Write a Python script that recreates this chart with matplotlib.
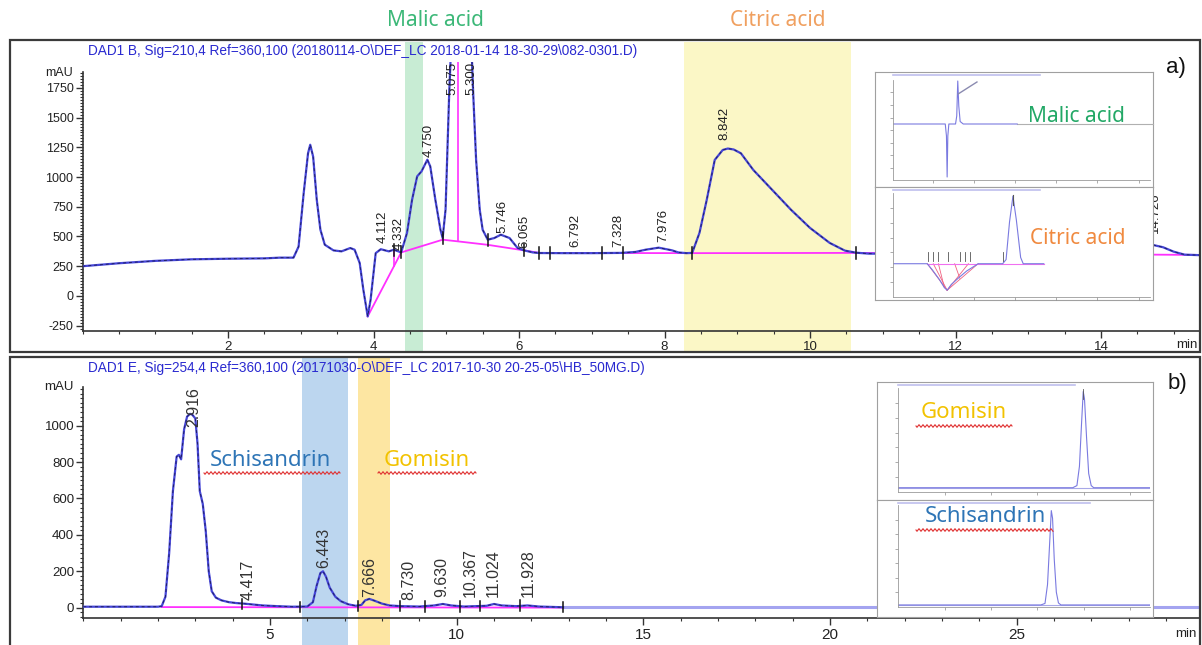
import numpy as np
import matplotlib
matplotlib.use('Agg')
import matplotlib.pyplot as plt
from matplotlib.patches import Rectangle
from matplotlib.lines import Line2D
from matplotlib.transforms import blended_transform_factory
from matplotlib.ticker import MultipleLocator, FixedLocator, NullFormatter

plt.rcParams['font.family'] = ['Liberation Sans', 'DejaVu Sans']
plt.rcParams['axes.unicode_minus'] = False

W, H = 1202, 645

# ---------------- panel a) DAD1 B, 210 nm ----------------
a_time = [0.0, 0.5, 1.0, 1.5, 2.0, 2.5, 2.71, 2.90, 2.97, 3.04, 3.10, 3.13, 3.17, 3.22,
          3.27, 3.33, 3.45, 3.56, 3.68, 3.74, 3.81, 3.86, 3.92, 3.96, 4.03, 4.10, 4.21,
          4.28, 4.38, 4.46, 4.53, 4.60, 4.66, 4.74, 4.78, 4.85, 4.92, 4.95, 4.99, 5.04,
          5.08, 5.17, 5.30, 5.34, 5.37, 5.41, 5.46, 5.50, 5.57, 5.66, 5.75, 5.87, 5.98,
          6.07, 6.19, 6.28, 6.6, 7.0, 7.4, 7.6, 7.74, 7.92, 8.10, 8.19, 8.30, 8.38,
          8.48, 8.58, 8.69, 8.80, 8.87, 8.95, 9.05, 9.22, 9.48, 9.74, 10.00, 10.27,
          10.48, 10.63, 10.8, 11.5, 12.5, 13.5, 14.2, 14.45, 14.6, 14.72, 14.85, 15.0,
          15.15, 15.36]
a_mau = [250, 275, 295, 308, 313, 316, 322, 322, 415, 864, 1200, 1272, 1172, 809,
         557, 431, 383, 375, 403, 389, 277, 53, -172, -32, 360, 393, 375,
         389, 366, 529, 809, 1006, 1048, 1146, 1090, 809, 557, 487, 725, 1700,
         2300, 2150, 2400, 2200, 1705, 1146, 725, 557, 473, 487, 515, 487, 403,
         383, 366, 361, 360, 360, 362, 370, 389, 406, 384, 366, 360, 362,
         530, 808, 1144, 1228, 1240, 1232, 1200, 1060, 892, 724, 572, 446,
         381, 364, 356, 352, 350, 348, 352, 380, 420, 428, 410, 372,
         347, 343]

a_base_t = [3.92, 4.38, 4.95, 5.16, 5.57, 6.07, 6.28, 8.38, 10.63, 15.36]
a_base_v = [-172, 366, 473, 459, 430, 383, 362, 360, 362, 345]

a_drop_t = [4.28, 5.16]
a_drop_lo = [249, 459]
a_drop_hi = [389, 2100]

a_mark_t = [4.28, 4.38, 4.95, 5.57, 6.07, 6.28, 6.42, 7.14, 7.43, 8.38, 10.63]
a_mark_v = [389, 366, 487, 473, 383, 362, 360, 360, 360, 362, 364]

a_lab_txt = ['4.112', '4.332', '4.750', '5.746', '6.065', '6.792', '7.328', '7.976', '8.842', '14.726']
a_lab_t = [4.13, 4.34, 4.76, 5.77, 6.08, 6.78, 7.36, 7.98, 8.82, 14.74]
a_lab_v = [446, 387, 1170, 530, 404, 412, 412, 454, 1312, 530]
a_top_txt = ['5.075', '5.300']
a_top_t = [5.09, 5.34]

# inset a (standards)
ia1_t = [0, 3.05, 3.12, 3.16, 3.20, 3.26, 3.65, 3.72, 3.78, 3.84, 3.92, 4.1, 7.25]
ia1_v = [0, 0, -120, -530, -120, 0, 0, 80, 430, 180, 25, 0, 0]
ia2_t = [0, 2.0, 2.3, 2.7, 3.0, 3.16, 3.4, 3.8, 4.3, 4.97, 6.4, 6.6, 6.8, 7.0, 7.2, 7.45, 7.6, 8.8]
ia2_v = [0, 0, -60, -150, -230, -255, -200, -140, -70, 0, 0, 40, 400, 650, 420, 60, 0, 0]
ia2_base_t = [[2.0, 3.16], [3.16, 4.97], [2.35, 3.16], [3.16, 4.4], [2.65, 3.0], [3.6, 3.9]]
ia2_base_v = [[0, -255], [-255, 0], [0, -255], [-255, 0], [0, -230], [0, -140]]
ia2_mark_t = [2.05, 2.35, 2.6, 3.2, 3.9, 4.2, 4.5, 6.4]

# ---------------- panel b) DAD1 E, 254 nm ----------------
b_time = [0.0, 1.0, 2.0, 2.1, 2.2, 2.3, 2.4, 2.5, 2.56, 2.62, 2.7, 2.78, 2.86, 2.92,
          3.0, 3.06, 3.12, 3.2, 3.28, 3.36, 3.44, 3.55, 3.7, 3.9, 4.1, 4.3, 4.5,
          4.8, 5.2, 5.6, 6.0, 6.15, 6.25, 6.35, 6.42, 6.5, 6.6, 6.75, 6.9, 7.1,
          7.3, 7.45, 7.55, 7.66, 7.8, 8.0, 8.2, 8.5, 9.0, 9.4, 9.63, 9.85, 10.2,
          10.8, 11.0, 11.2, 11.6, 11.9, 12.2, 12.85]
b_mau = [5, 5, 5, 8, 60, 300, 640, 830, 840, 815, 980, 1050, 1065, 1060,
         1040, 900, 640, 570, 420, 200, 90, 55, 40, 30, 25, 22, 18,
         12, 8, 5, 6, 30, 120, 190, 200, 170, 110, 60, 35, 18,
         10, 15, 40, 48, 38, 22, 12, 8, 6, 12, 20, 12, 6,
         10, 20, 12, 8, 12, 6, 2]
b_tail_t = [12.85, 29.91]
b_tail_v = [2, 2]
b_base_t = [2.1, 12.85]
b_base_v = [3, 0]
b_mark_t = [4.24, 5.8, 7.37, 8.48, 9.15, 10.09, 10.63, 11.7, 12.85]
b_mark_v = [22, 5, 10, 8, 6, 6, 8, 12, 2]

b_lab_txt = ['2.916', '4.417', '6.443', '7.666', '8.730', '9.630', '10.367', '11.024', '11.928']
b_lab_t = [2.97, 4.41, 6.45, 7.68, 8.72, 9.60, 10.36, 10.98, 11.91]
b_lab_v = [990, 42, 218, 58, 42, 58, 58, 58, 58]

# inset b (standards)
ib1_t = [0, 20.8, 21.3, 21.6, 21.85, 22.05, 22.2, 22.45, 22.7, 23.0, 23.3, 30]
ib1_v = [0, 0, 30, 300, 900, 1350, 1250, 700, 200, 30, 0, 0]
ib2_t = [0, 17.0, 17.5, 17.8, 18.05, 18.25, 18.4, 18.6, 18.85, 19.1, 19.4, 30]
ib2_v = [0, 0, 30, 400, 1200, 1850, 1700, 900, 250, 40, 0, 0]

fig = plt.figure(figsize=(W / 100, H / 100), dpi=100)
fig.patch.set_facecolor('white')


def rect(x0, y0, x1, y1):
    return [x0 / W, 1 - y1 / H, (x1 - x0) / W, (y1 - y0) / H]


def ftext(x, y, s, **kw):
    return fig.text(x / W, 1 - y / H, s, **kw)


def wavy(x0, x1, y, z=8):
    xs = np.arange(x0, x1 + 0.1, 1.0)
    ys = y + 1.3 * np.sin(xs * np.pi / 2)
    fig.add_artist(Line2D(xs / W, 1 - ys / H, transform=fig.transFigure,
                          color='#e03030', lw=0.8, zorder=z))


def band(ax, x0, x1, y0, y1, color):
    tr = blended_transform_factory(ax.transData, fig.transFigure)
    ax.add_patch(Rectangle((x0, 1 - y1 / H), x1 - x0, (y1 - y0) / H, transform=tr,
                           color=color, lw=0, clip_on=False, zorder=0))


def style(ax, xlim, ylim, ytop, xmaj, xmin, ymaj, ymin, fs_x, fs_y):
    ax.set_xlim(xlim)
    ax.set_ylim(ylim)
    ax.set_facecolor('none')
    for s in ['top', 'right']:
        ax.spines[s].set_visible(False)
    for s in ['left', 'bottom']:
        ax.spines[s].set_color('#333333')
        ax.spines[s].set_linewidth(1.2)
    ax.spines['left'].set_bounds(ylim[0], ytop)
    ax.set_xticks(xmaj)
    ax.xaxis.set_minor_locator(MultipleLocator(xmin))
    ax.set_yticks(ymaj)
    ax.yaxis.set_minor_locator(FixedLocator(np.arange(ymaj[0] - ymin * 2, ytop, ymin)))
    ax.tick_params(which='major', direction='out', length=5, width=1, color='#333333')
    ax.tick_params(which='minor', direction='out', length=2.5, width=0.8, color='#333333')
    ax.tick_params(axis='x', labelsize=fs_x, pad=2, labelcolor='#222222')
    ax.tick_params(axis='y', labelsize=fs_y, pad=1.5, labelcolor='#222222')
    tr = blended_transform_factory(ax.transAxes, ax.transData)
    ax.text(-0.009, ytop - 5, 'mAU', transform=tr, ha='right', va='center',
            fontsize=fs_y, color='#222222')


# ---------- panel a ----------
ax_a = fig.add_axes(rect(82.5, 62, 1200, 331))
style(ax_a, (0, 15.36), (-295, 1968), 1880, [2, 4, 6, 8, 10, 12, 14], 0.5,
      list(range(-250, 1751, 250)), 25, 9.5, 9)
band(ax_a, 4.43, 4.68, 42, 352, '#c8ecd4')
band(ax_a, 8.27, 10.56, 42, 352, '#fbf7c6')

ax_a.plot(a_base_t, a_base_v, color='#ff30ff', lw=1.3, zorder=2)
for t, lo, hi in zip(a_drop_t, a_drop_lo, a_drop_hi):
    ax_a.plot([t, t], [lo, hi], color='#ff30ff', lw=1.2, zorder=2)
ax_a.plot(a_time, a_mau, color='#4646d8', lw=1.6, zorder=3)
ax_a.plot(a_time, a_mau, color='#16164a', lw=0.7, dashes=(3, 3), alpha=0.8, zorder=3.1)
for t, v in zip(a_mark_t, a_mark_v):
    ax_a.plot([t, t], [v - 50, v + 50], color='#111111', lw=1.1, zorder=4)
for s, t, v in zip(a_lab_txt, a_lab_t, a_lab_v):
    ax_a.text(t, v, s, rotation=90, ha='center', va='bottom', fontsize=9.5,
              color='#222222', zorder=4)
for s, t in zip(a_top_txt, a_top_t):
    ax_a.text(t, 1965, s, rotation=90, ha='center', va='top', fontsize=9.5,
              color='#222222', zorder=4)

ftext(88, 51, 'DAD1 B, Sig=210,4 Ref=360,100 (20180114-O\\DEF_LC 2018-01-14 18-30-29\\082-0301.D)',
      fontsize=9.8, color='#2a2ad0', ha='left', va='center')
ftext(1198, 345, 'min', fontsize=9.5, color='#222222', ha='right', va='center')
ftext(435, 20, 'Malic acid', fontsize=15, color='#3cb878', ha='center', va='center',
      family=['Noto Sans', 'DejaVu Sans'])
ftext(778, 20, 'Citric acid', fontsize=15, color='#f0a060', ha='center', va='center',
      family=['Noto Sans', 'DejaVu Sans'])
ftext(1176, 68, 'a)', fontsize=16, color='#111111', ha='center', va='center')

# ---------- panel b ----------
ax_b = fig.add_axes(rect(83.3, 380, 1200, 618))
style(ax_b, (0, 29.91), (-57, 1251), 1215, [5, 10, 15, 20, 25], 1,
      list(range(0, 1001, 200)), 25, 11, 9.5)
band(ax_b, 5.85, 7.10, 358, 645, '#bcd6ef')
band(ax_b, 7.37, 8.22, 358, 645, '#fde6a2')

ax_b.plot(b_tail_t, b_tail_v, color='#a4a4f0', lw=2.2, zorder=2)
ax_b.plot(b_base_t, b_base_v, color='#ff30ff', lw=1.3, zorder=2)
ax_b.plot(b_time, b_mau, color='#4646d8', lw=1.6, zorder=3)
ax_b.plot(b_time, b_mau, color='#16164a', lw=0.7, dashes=(3, 3), alpha=0.8, zorder=3.1)
for t, v in zip(b_mark_t, b_mark_v):
    ax_b.plot([t, t], [v - 28, v + 28], color='#111111', lw=1.1, zorder=4)
for s, t, v in zip(b_lab_txt, b_lab_t, b_lab_v):
    ax_b.text(t, v, s, rotation=90, ha='center', va='bottom', fontsize=11.5,
              color='#333333', zorder=4)

ftext(88, 368, 'DAD1 E, Sig=254,4 Ref=360,100 (20171030-O\\DEF_LC 2017-10-30 20-25-05\\HB_50MG.D)',
      fontsize=9.8, color='#2a2ad0', ha='left', va='center')
ftext(1197, 634, 'min', fontsize=9.5, color='#222222', ha='right', va='center')
ftext(270, 461, 'Schisandrin', fontsize=16, color='#2e75b6', ha='center', va='center',
      family=['Noto Sans', 'DejaVu Sans'])
wavy(204, 340, 473)
ftext(427, 461, 'Gomisin', fontsize=16, color='#f2c200', ha='center', va='center',
      family=['Noto Sans', 'DejaVu Sans'])
wavy(378, 476, 473)
ftext(1177, 384, 'b)', fontsize=16, color='#111111', ha='center', va='center')

# ---------- panel frames ----------
for y0, y1 in [(40, 352), (357, 652)]:
    fig.add_artist(Rectangle((10 / W, 1 - y1 / H), 1190 / W, (y1 - y0) / H,
                             transform=fig.transFigure, fill=False,
                             ec='#3a3a3a', lw=1.6, zorder=1))


# ---------- insets ----------
def inset(outer, inner, xlim, ylim, xt, n_y, title_end, z=5):
    o = fig.add_axes(rect(*outer), zorder=z)
    o.set_facecolor('white')
    o.set_xticks([])
    o.set_yticks([])
    for s in o.spines.values():
        s.set_color('#a0a0a0')
        s.set_linewidth(0.8)
    i = fig.add_axes(rect(*inner), zorder=z + 0.5)
    i.set_facecolor('none')
    i.set_xlim(xlim)
    i.set_ylim(ylim)
    for s in ['top', 'right']:
        i.spines[s].set_visible(False)
    for s in ['left', 'bottom']:
        i.spines[s].set_color('#9a9a9a')
        i.spines[s].set_linewidth(0.6)
    i.set_xticks(xt)
    i.set_yticks(np.linspace(ylim[0], ylim[1], n_y)[1:-1])
    i.xaxis.set_major_formatter(NullFormatter())
    i.yaxis.set_major_formatter(NullFormatter())
    i.tick_params(direction='out', length=2, width=0.5, color='#8a8a8a')
    x0 = inner[0]
    fig.add_artist(Line2D([x0 / W, title_end / W], [1 - (outer[1] + 2.5) / H] * 2,
                          transform=fig.transFigure, color='#7070d8', lw=1.2,
                          alpha=0.45, zorder=z + 1))
    return i


ia1 = inset((875, 72, 1153, 187), (893, 80, 1150, 180), (0, 15), (-560, 440),
            np.arange(2.33, 15, 2.4), 9, 1040)
ia1.plot([7.25, 15.2], [0, 0], color='#b0b0b0', lw=0.8, clip_on=False)
ia1.plot(ia1_t, ia1_v, color='#7a7ae0', lw=0.8)
ia1.plot([3.8, 4.9], [300, 420], color='#8a8ab0', lw=1.0)

ia2 = inset((875, 187, 1153, 300), (893, 193, 1150, 297), (0, 15), (-320, 680),
            np.arange(2.33, 15, 2.4), 8, 1040)
for bt, bv in zip(ia2_base_t, ia2_base_v):
    ia2.plot(bt, bv, color='#f06080', lw=0.6)
ia2.plot([2.0, 8.8], [0, 0], color='#f070f0', lw=0.8)
ia2.plot(ia2_t, ia2_v, color='#7a7ae0', lw=0.8)
for t in ia2_mark_t:
    ia2.plot([t, t], [30, 110], color='#555555', lw=0.6)
ia2.plot([7.0, 7.0], [560, 660], color='#555555', lw=0.8)

ib1 = inset((877, 382, 1153, 500), (898, 388, 1150, 492), (0, 30), (-60, 1400),
            np.arange(5.6, 30, 5.5), 8, 1075)
ib1.plot([0, 30], [0, 0], color='#a8a8e8', lw=0.8)
ib1.plot(ib1_t, ib1_v, color='#7a7ae0', lw=0.8)
ib1.plot([22.05, 22.05], [1250, 1390], color='#555555', lw=0.6)

ib2 = inset((877, 500, 1153, 617), (898, 505, 1150, 607), (0, 30), (-40, 1960),
            np.arange(5.6, 30, 5.5), 8, 1090)
ib2.plot([0, 30], [0, 0], color='#a8a8e8', lw=0.8)
ib2.plot(ib2_t, ib2_v, color='#7a7ae0', lw=0.8)

ftext(1076, 117, 'Malic acid', fontsize=15, color='#22a866', ha='center', va='center',
      family=['Noto Sans', 'DejaVu Sans'], zorder=10)
ftext(1078, 239, 'Citric acid', fontsize=15, color='#f08a40', ha='center', va='center',
      family=['Noto Sans', 'DejaVu Sans'], zorder=10)
ftext(964, 413, 'Gomisin', fontsize=16, color='#f2c200', ha='center', va='center',
      family=['Noto Sans', 'DejaVu Sans'], zorder=10)
wavy(916, 1012, 426, z=11)
ftext(985, 517, 'Schisandrin', fontsize=16, color='#2e75b6', ha='center', va='center',
      family=['Noto Sans', 'DejaVu Sans'], zorder=10)
wavy(916, 1053, 530, z=11)

fig.savefig('out.png', dpi=100, facecolor='white')
